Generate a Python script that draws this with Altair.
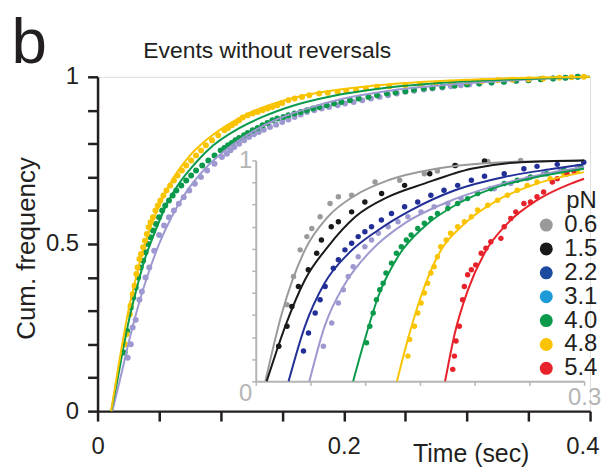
import altair as alt
import pandas as pd

# ---------------- data: main panel (Time in s, cumulative frequency) ----------------
MAIN_SERIES = ["3.1", "4.0", "4.8"]

MAIN_FIT_T_48 = [0.011, 0.015, 0.020, 0.025, 0.030, 0.036, 0.043, 0.052, 0.062, 0.074, 0.088, 0.105, 0.125, 0.15, 0.18, 0.22, 0.27, 0.33, 0.40]
MAIN_FIT_F_48 = [0.0, 0.09, 0.20, 0.30, 0.38, 0.47, 0.55, 0.63, 0.70, 0.76, 0.81, 0.855, 0.895, 0.928, 0.953, 0.972, 0.986, 0.995, 1.0]
MAIN_FIT_T_40 = [0.011, 0.016, 0.021, 0.026, 0.032, 0.038, 0.046, 0.055, 0.066, 0.079, 0.094, 0.112, 0.134, 0.16, 0.19, 0.23, 0.28, 0.34, 0.40]
MAIN_FIT_F_40 = [0.0, 0.09, 0.19, 0.28, 0.37, 0.45, 0.53, 0.61, 0.68, 0.74, 0.795, 0.84, 0.88, 0.915, 0.942, 0.965, 0.982, 0.993, 1.0]
MAIN_FIT_T_31 = [0.012, 0.018, 0.023, 0.029, 0.035, 0.042, 0.050, 0.060, 0.072, 0.086, 0.102, 0.121, 0.144, 0.17, 0.20, 0.24, 0.29, 0.34, 0.40]
MAIN_FIT_F_31 = [0.0, 0.09, 0.17, 0.26, 0.34, 0.42, 0.50, 0.58, 0.655, 0.72, 0.775, 0.825, 0.87, 0.905, 0.935, 0.96, 0.978, 0.99, 1.0]

MAIN_PTS_T_48 = [0.0224, 0.0235, 0.0262, 0.0268, 0.0285, 0.0300, 0.0315, 0.0325, 0.0340, 0.0353, 0.0370, 0.0385, 0.0400, 0.0415, 0.0430, 0.0450, 0.0470, 0.0490, 0.0510, 0.0535, 0.0560, 0.0590, 0.0620, 0.0650, 0.0685, 0.0720, 0.0760, 0.0800, 0.0840, 0.0880, 0.0930, 0.0980, 0.1030, 0.1090, 0.1150, 0.1220, 0.1300, 0.1380, 0.1460, 0.1550, 0.1660, 0.1800, 0.1950, 0.2100, 0.2270, 0.2500, 0.2750, 0.3000, 0.3250, 0.3500, 0.3750, 0.3950,
                 0.106, 0.112, 0.118, 0.126, 0.134, 0.142, 0.150, 0.160, 0.172, 0.187, 0.202, 0.218, 0.237, 0.262, 0.287, 0.312, 0.337, 0.362, 0.385]
MAIN_PTS_F_48 = [0.20, 0.23, 0.29, 0.315, 0.35, 0.375, 0.41, 0.43, 0.455, 0.47, 0.49, 0.51, 0.53, 0.55, 0.565, 0.58, 0.60, 0.615, 0.63, 0.645, 0.66, 0.675, 0.69, 0.705, 0.72, 0.735, 0.75, 0.765, 0.78, 0.795, 0.81, 0.825, 0.84, 0.855, 0.87, 0.885, 0.895, 0.905, 0.915, 0.93, 0.94, 0.95, 0.955, 0.96, 0.97, 0.975, 0.98, 0.985, 0.99, 0.993, 0.997, 1.0,
                 0.847, 0.862, 0.878, 0.89, 0.90, 0.91, 0.922, 0.935, 0.945, 0.952, 0.958, 0.965, 0.972, 0.977, 0.983, 0.987, 0.991, 0.995, 0.999]
MAIN_PTS_T_40 = [0.0220, 0.0240, 0.0270, 0.0290, 0.0310, 0.0330, 0.0350, 0.0370, 0.0390, 0.0410, 0.0430, 0.0450, 0.0475, 0.0500, 0.0525, 0.0550, 0.0580, 0.0610, 0.0640, 0.0680, 0.0720, 0.0760, 0.0800, 0.0850, 0.0900, 0.0950, 0.1000, 0.1060, 0.1120, 0.1190, 0.1260, 0.1340, 0.1420, 0.1510, 0.1600, 0.1700, 0.1800, 0.1920, 0.2050, 0.2200, 0.2350, 0.2500, 0.2650, 0.2800, 0.3000, 0.3200, 0.3400, 0.3600, 0.3800,
                 0.103, 0.109, 0.115, 0.122, 0.130, 0.138, 0.146, 0.155, 0.165, 0.175, 0.186, 0.198, 0.212, 0.227, 0.242, 0.257, 0.272, 0.290, 0.310, 0.330, 0.350, 0.370, 0.390]
MAIN_PTS_F_40 = [0.175, 0.24, 0.31, 0.34, 0.37, 0.40, 0.43, 0.45, 0.475, 0.50, 0.52, 0.54, 0.56, 0.58, 0.60, 0.615, 0.63, 0.645, 0.66, 0.675, 0.69, 0.705, 0.72, 0.735, 0.75, 0.765, 0.78, 0.795, 0.81, 0.825, 0.84, 0.855, 0.87, 0.88, 0.89, 0.90, 0.91, 0.92, 0.93, 0.94, 0.95, 0.957, 0.965, 0.97, 0.977, 0.983, 0.988, 0.993, 0.997,
                 0.787, 0.802, 0.817, 0.832, 0.847, 0.862, 0.875, 0.885, 0.895, 0.905, 0.915, 0.925, 0.935, 0.945, 0.953, 0.961, 0.967, 0.973, 0.98, 0.985, 0.99, 0.995, 1.0]
MAIN_PTS_T_31 = [0.0245, 0.0270, 0.0285, 0.0310, 0.0340, 0.0360, 0.0390, 0.0420, 0.0460, 0.0500, 0.0540, 0.0580, 0.0620, 0.0660, 0.0700, 0.0745, 0.0790, 0.0840, 0.0890, 0.0950, 0.1010, 0.1080, 0.1150, 0.1230, 0.1310, 0.1400, 0.1500, 0.1600, 0.1700, 0.1820, 0.1950, 0.2080, 0.2220, 0.2360, 0.2500, 0.2650, 0.2800, 0.2950, 0.3100, 0.3300, 0.3500, 0.3700, 0.3900,
                 0.105, 0.111, 0.119, 0.127, 0.135, 0.145, 0.155, 0.165, 0.176, 0.188, 0.201, 0.215, 0.229, 0.243, 0.257, 0.272, 0.287, 0.302, 0.320, 0.340, 0.360, 0.380]
MAIN_PTS_F_31 = [0.16, 0.20, 0.25, 0.273, 0.333, 0.358, 0.40, 0.43, 0.48, 0.527, 0.555, 0.58, 0.60, 0.62, 0.64, 0.66, 0.68, 0.70, 0.72, 0.74, 0.76, 0.78, 0.80, 0.82, 0.835, 0.85, 0.865, 0.88, 0.895, 0.905, 0.915, 0.925, 0.935, 0.945, 0.955, 0.962, 0.968, 0.975, 0.98, 0.985, 0.99, 0.995, 1.0,
                 0.77, 0.79, 0.81, 0.828, 0.842, 0.857, 0.872, 0.887, 0.90, 0.91, 0.92, 0.93, 0.94, 0.95, 0.958, 0.965, 0.972, 0.977, 0.983, 0.988, 0.993, 0.997]

# ---------------- data: inset (Time 0..0.3 s) ----------------
PN_LEVELS = ["0.6", "1.5", "2.2", "3.1", "4.0", "4.8", "5.4"]

IN_FIT = {
    "0.6": ([0.0088, 0.024, 0.045, 0.066, 0.091, 0.121, 0.166, 0.227, 0.30],
            [0.0, 0.31, 0.595, 0.745, 0.842, 0.91, 0.963, 0.992, 1.0]),
    "1.5": ([0.010, 0.027, 0.045, 0.066, 0.091, 0.121, 0.154, 0.197, 0.242, 0.30],
            [0.0, 0.25, 0.46, 0.61, 0.745, 0.835, 0.895, 0.962, 0.992, 1.0]),
    "2.2": ([0.030, 0.045, 0.063, 0.085, 0.112, 0.142, 0.182, 0.227, 0.272, 0.30],
            [0.0, 0.25, 0.445, 0.58, 0.685, 0.775, 0.865, 0.925, 0.962, 0.982]),
    "3.1": ([0.049, 0.063, 0.082, 0.106, 0.136, 0.172, 0.215, 0.257, 0.30],
            [0.0, 0.25, 0.445, 0.595, 0.715, 0.805, 0.88, 0.932, 0.97]),
    "4.0": ([0.089, 0.0997, 0.112, 0.130, 0.154, 0.185, 0.221, 0.257, 0.30],
            [0.0, 0.19, 0.385, 0.565, 0.70, 0.805, 0.88, 0.925, 0.962]),
    "4.8": ([0.129, 0.139, 0.151, 0.166, 0.191, 0.221, 0.257, 0.30],
            [0.0, 0.19, 0.385, 0.565, 0.715, 0.82, 0.895, 0.947]),
    "5.4": ([0.173, 0.182, 0.194, 0.209, 0.230, 0.257, 0.288, 0.30],
            [0.0, 0.22, 0.415, 0.58, 0.715, 0.82, 0.895, 0.917]),
}

IN_PTS = {
    "0.6": ([0.021, 0.0285, 0.0345, 0.0406, 0.0467, 0.0512, 0.0588, 0.0679, 0.0755, 0.0876, 0.109, 0.1315, 0.154, 0.166, 0.183, 0.212, 0.242],
            [0.159, 0.347, 0.474, 0.595, 0.655, 0.692, 0.745, 0.805, 0.835, 0.842, 0.902, 0.910, 0.94, 0.952, 0.977, 0.995, 1.0]),
    "1.5": ([0.021, 0.0285, 0.033, 0.039, 0.048, 0.0557, 0.060, 0.069, 0.0755, 0.0876, 0.0997, 0.115, 0.136, 0.159, 0.182, 0.209],
            [0.159, 0.249, 0.339, 0.429, 0.505, 0.58, 0.64, 0.70, 0.722, 0.767, 0.812, 0.85, 0.887, 0.94, 0.977, 0.997]),
    "2.2": ([0.0436, 0.0482, 0.0543, 0.0588, 0.0634, 0.0709, 0.0755, 0.0815, 0.0876, 0.0936, 0.0997, 0.1058, 0.1148, 0.124, 0.136, 0.148, 0.160, 0.172, 0.1845, 0.197, 0.209, 0.227, 0.245, 0.257, 0.2755, 0.2997],
            [0.137, 0.219, 0.309, 0.369, 0.429, 0.512, 0.55, 0.595, 0.625, 0.655, 0.677, 0.70, 0.73, 0.76, 0.79, 0.812, 0.842, 0.865, 0.887, 0.91, 0.928, 0.94, 0.962, 0.973, 0.982, 0.992]),
    "3.1": ([0.0618, 0.0694, 0.0755, 0.080, 0.0845, 0.089, 0.0936, 0.0997, 0.1058, 0.112, 0.121, 0.130, 0.139, 0.151, 0.163, 0.1755, 0.1876, 0.2027, 0.218, 0.233, 0.248, 0.263, 0.2785, 0.294],
            [0.159, 0.264, 0.354, 0.414, 0.474, 0.519, 0.564, 0.609, 0.64, 0.67, 0.70, 0.722, 0.745, 0.767, 0.79, 0.805, 0.827, 0.85, 0.872, 0.895, 0.917, 0.94, 0.955, 0.973]),
    "4.0": ([0.1012, 0.1042, 0.1073, 0.1103, 0.1133, 0.1164, 0.119, 0.124, 0.1285, 0.133, 0.1376, 0.142, 0.148, 0.154, 0.160, 0.166, 0.1755, 0.1845, 0.1936, 0.2027, 0.2148, 0.227, 0.239, 0.251, 0.266, 0.2815, 0.2967],
            [0.174, 0.249, 0.309, 0.369, 0.414, 0.444, 0.49, 0.535, 0.58, 0.609, 0.64, 0.662, 0.692, 0.715, 0.737, 0.76, 0.782, 0.805, 0.827, 0.85, 0.872, 0.895, 0.91, 0.925, 0.94, 0.958, 0.97]),
    "4.8": ([0.139, 0.1406, 0.145, 0.148, 0.151, 0.154, 0.157, 0.160, 0.163, 0.166, 0.169, 0.174, 0.178, 0.1845, 0.1906, 0.197, 0.2027, 0.212, 0.221, 0.230, 0.239, 0.248, 0.257, 0.269, 0.2815, 0.294],
            [0.114, 0.189, 0.249, 0.309, 0.354, 0.40, 0.444, 0.49, 0.519, 0.564, 0.609, 0.64, 0.67, 0.70, 0.722, 0.745, 0.775, 0.797, 0.82, 0.842, 0.865, 0.887, 0.902, 0.917, 0.94, 0.955]),
    "5.4": ([0.180, 0.1815, 0.183, 0.186, 0.189, 0.1906, 0.1936, 0.197, 0.201, 0.206, 0.2103, 0.2148, 0.224, 0.227, 0.233, 0.2376, 0.245, 0.251, 0.257, 0.263, 0.271, 0.2755, 0.2845, 0.2906],
            [0.054, 0.114, 0.182, 0.249, 0.369, 0.429, 0.482, 0.505, 0.527, 0.58, 0.602, 0.632, 0.647, 0.70, 0.737, 0.767, 0.805, 0.812, 0.835, 0.857, 0.902, 0.917, 0.94, 0.952]),
}

MAIN_X_TICKS = [0, 0.05, 0.1, 0.15, 0.2, 0.25, 0.3, 0.35, 0.4]
Y_TICKS = [0, 0.1, 0.2, 0.3, 0.4, 0.5, 0.6, 0.7, 0.8, 0.9, 1]
INSET_X_TICKS = [0, 0.05, 0.1, 0.15, 0.2, 0.25, 0.3]

# ---------------- styles ----------------
FONT = "Liberation Sans"
INK = "#231f20"
GREY = "#b4b4b4"
SERIES_COLORS = ["#9a9a9a", "#1a1a1a", "#222f96", "#9d99d0", "#0b9a4b", "#f9c300", "#e7222a"]
LEGEND_COLORS = ["#9a9a9a", "#1a1a1a", "#1b4a9f", "#1d9ad8", "#0b9a4b", "#f9c300", "#e7222a"]
MAIN_COLORS = ["#9d99d0", "#0b9a4b", "#f9c300"]

# ---------------- tables ----------------
def table(pairs):
    frames = []
    for key, (ts, fs) in pairs:
        frames.append(pd.DataFrame({"t": ts, "f": fs, "pN": key}))
    return pd.concat(frames, ignore_index=True)

main_fit_df = table([("3.1", (MAIN_FIT_T_31, MAIN_FIT_F_31)), ("4.0", (MAIN_FIT_T_40, MAIN_FIT_F_40)), ("4.8", (MAIN_FIT_T_48, MAIN_FIT_F_48))])
main_pts_df = table([("3.1", (MAIN_PTS_T_31, MAIN_PTS_F_31)), ("4.0", (MAIN_PTS_T_40, MAIN_PTS_F_40)), ("4.8", (MAIN_PTS_T_48, MAIN_PTS_F_48))])
in_fit_df = table([(k, IN_FIT[k]) for k in PN_LEVELS])
in_pts_df = table([(k, IN_PTS[k]) for k in PN_LEVELS])

# ---------------- main panel ----------------
main_xscale = alt.Scale(domain=[0, 0.4], nice=False, zero=False)
main_yscale = alt.Scale(domain=[0, 1], nice=False)

main_y_axis = alt.Axis(
    values=Y_TICKS, format="~g",
    labelExpr="(datum.label == '0' || datum.label == '0.5' || datum.label == '1') ? datum.label : ''",
    tickSize=10, tickWidth=2.5, tickColor=INK, domainColor=INK, domainWidth=2.5, grid=False,
    labelFont=FONT, labelFontSize=24, labelColor=INK, labelPadding=9, labelOverlap=False,
    title="Cum. frequency", titleFont=FONT, titleFontSize=26, titleFontWeight="normal", titleColor=INK,
    titleX=-63, titleY=172, titleAngle=270, titleAlign="center", titleBaseline="alphabetic",
)
main_x_axis = alt.Axis(
    orient="bottom", values=MAIN_X_TICKS, format="~g",
    labelExpr="indexof(['0','0.2','0.4'], datum.label) >= 0 ? datum.label : ''",
    labelAlign={"condition": {"test": "datum.value >= 0.39", "value": "right"}, "value": "center"},
    labelOffset={"condition": {"test": "datum.value >= 0.39", "value": 9}, "value": 0},
    tickSize=10, tickWidth=2.5, tickColor=INK, domainColor=INK, domainWidth=2.5, grid=False,
    labelFont=FONT, labelFontSize=24, labelColor=INK, labelPadding=14, labelFlush=False, labelOverlap=False,
    title="Time (sec)", titleFont=FONT, titleFontSize=25, titleFontWeight="normal", titleColor=INK,
    titleX=375, titleY=51, titleAlign="center", titleBaseline="alphabetic",
)
main_top_axis = alt.Axis(
    orient="top", labels=False, ticks=False, domain=False, grid=False,
    title="Events without reversals", titleFont=FONT, titleFontSize=23, titleFontWeight="normal", titleColor=INK,
    titleX=170, titleY=-19, titleAlign="center", titleBaseline="alphabetic",
)
main_color = alt.Color("pN:N", scale=alt.Scale(domain=MAIN_SERIES, range=MAIN_COLORS), legend=None)

main_points = alt.Chart(main_pts_df).mark_circle(size=36, opacity=1).encode(
    x=alt.X("t:Q", scale=main_xscale, axis=main_x_axis),
    y=alt.Y("f:Q", scale=main_yscale, axis=main_y_axis),
    color=main_color,
)
main_lines = alt.Chart(main_fit_df).mark_line(strokeWidth=2, interpolate="monotone").encode(
    x=alt.X("t:Q", scale=main_xscale, axis=main_top_axis),
    y=alt.Y("f:Q", scale=main_yscale, axis=main_y_axis),
    color=main_color,
    detail="pN:N",
)
main_layer = alt.layer(main_points, main_lines).resolve_axis(x="independent")

# ---------------- inset ----------------
in_xscale = alt.Scale(domain=[0, 0.3], range=[159, 489], nice=False, zero=False)
in_yscale = alt.Scale(domain=[0, 1], range=[306, 84], nice=False)

in_y_axis = alt.Axis(
    orient="left", offset=-159, values=Y_TICKS, format="~g",
    labelExpr="(datum.label == '0' || datum.label == '1') ? datum.label : ''",
    labelBaseline={"condition": {"test": "datum.value == 0", "value": "top"}, "value": "middle"},
    tickSize=4, tickWidth=1.5, tickColor=GREY, domainColor=GREY, domainWidth=2, grid=False,
    labelFont=FONT, labelFontSize=24, labelColor=GREY, labelPadding=0, labelOverlap=False, title=None,
)
in_x_axis = alt.Axis(
    orient="bottom", offset=-30, values=INSET_X_TICKS, format="~g",
    labelExpr="datum.label == '0.3' ? datum.label : ''",
    tickSize=4, tickWidth=1.5, tickColor=GREY, domainColor=GREY, domainWidth=2, grid=False,
    labelFont=FONT, labelFontSize=24, labelColor=GREY, labelPadding=0, labelFlush=False, labelOverlap=False, title=None,
)
in_top_axis = alt.Axis(
    orient="top", labels=False, ticks=False, domain=False, grid=False,
    title="b", titleFont=FONT, titleFontSize=64, titleFontWeight="normal", titleColor=INK,
    titleX=-87, titleY=-14, titleAlign="left", titleBaseline="alphabetic",
)
in_color = alt.Color("pN:N", scale=alt.Scale(domain=PN_LEVELS, range=SERIES_COLORS), legend=None)

in_points = alt.Chart(in_pts_df).mark_circle(size=30, opacity=1).encode(
    x=alt.X("t:Q", scale=in_xscale, axis=in_x_axis),
    y=alt.Y("f:Q", scale=in_yscale, axis=in_y_axis),
    color=in_color,
)
in_lines = alt.Chart(in_fit_df).mark_line(strokeWidth=2, interpolate="monotone").encode(
    x=alt.X("t:Q", scale=in_xscale, axis=in_top_axis),
    y=alt.Y("f:Q", scale=in_yscale, axis=in_y_axis),
    color=in_color,
    detail="pN:N",
)
in_legend = alt.Chart(in_pts_df).mark_circle(opacity=0).encode(
    x=alt.X("t:Q", scale=in_xscale, axis=None),
    y=alt.Y("f:Q", scale=in_yscale, axis=in_y_axis),
    fill=alt.Fill("pN:N", scale=alt.Scale(domain=PN_LEVELS, range=LEGEND_COLORS), legend=alt.Legend(
        orient="none", legendX=439, legendY=113, padding=0,
        title="pN", titleFont=FONT, titleFontSize=24, titleFontWeight="normal", titleColor=INK,
        titleAnchor="middle", titleAlign="left", titlePadding=0,
        labelFont=FONT, labelFontSize=24, labelColor=INK, labelOffset=6,
        symbolType="circle", symbolSize=170, symbolStrokeWidth=0, symbolOpacity=1,
        rowPadding=0,
    )),
)
inset_layer = alt.layer(in_points, in_lines, in_legend).resolve_axis(x="independent")

chart = alt.layer(main_layer, inset_layer).resolve_scale(
    x="independent", y="independent", color="independent"
).resolve_axis(x="independent", y="independent").properties(
    width=495, height=336,
    autosize=alt.AutoSizeParams(type="none"),
    padding={"left": 90, "top": 68, "right": 12, "bottom": 58},
).configure_view(stroke=None).configure(background="white")

chart.save("out.html", embed_options={"renderer": "svg", "actions": False})
